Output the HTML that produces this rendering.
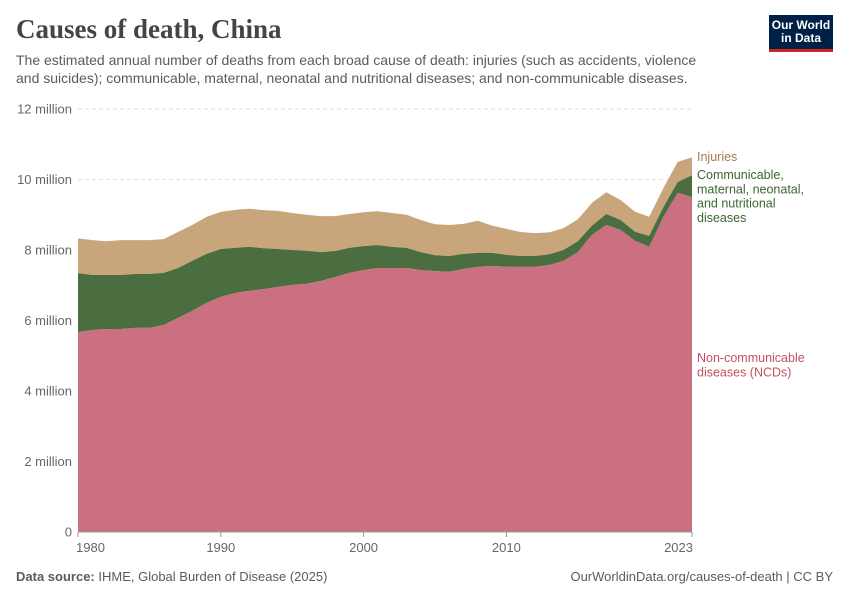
<!DOCTYPE html>
<html><head><meta charset="utf-8">
<style>
body{margin:0;background:#fff;font-family:"Liberation Sans",sans-serif;}
#wrap{position:relative;width:850px;height:600px;overflow:hidden;}
.t{position:absolute;white-space:nowrap;}
</style></head>
<body><div id="wrap">
<div class="t" style="left:16px;top:14px;font-family:'Liberation Serif',serif;font-size:27px;font-weight:bold;color:#444;">Causes of death, China</div>
<div class="t" style="left:16px;top:52px;font-size:14px;line-height:17.5px;color:#5b5b5b;">The estimated annual number of deaths from each broad cause of death: injuries (such as accidents, violence<br>and suicides); communicable, maternal, neonatal and nutritional diseases; and non-communicable diseases.</div>
<div style="position:absolute;left:769px;top:15px;width:64px;height:37px;background:#002147;border-bottom:3px solid #ce261e;box-sizing:border-box;color:#fff;font-size:12px;font-weight:bold;line-height:13px;text-align:center;padding-top:4px;">Our World<br>in Data</div>
<svg id="chart" width="850" height="600" style="position:absolute;left:0;top:0;"></svg>
<div class="t" style="left:16px;top:569px;font-size:13px;color:#5b5b5b;"><b>Data source:</b> IHME, Global Burden of Disease (2025)</div>
<div class="t" style="right:17px;top:569px;font-size:13px;color:#5b5b5b;">OurWorldinData.org/causes-of-death | CC BY</div>
</div>
<script>
const years=[1980,1981,1982,1983,1984,1985,1986,1987,1988,1989,1990,1991,1992,1993,1994,1995,1996,1997,1998,1999,2000,2001,2002,2003,2004,2005,2006,2007,2008,2009,2010,2011,2012,2013,2014,2015,2016,2017,2018,2019,2020,2021,2022,2023];
const ncd=[5.67,5.73,5.76,5.76,5.79,5.79,5.87,6.07,6.27,6.50,6.67,6.78,6.84,6.89,6.95,7.01,7.04,7.12,7.23,7.35,7.43,7.49,7.49,7.49,7.43,7.40,7.38,7.46,7.52,7.55,7.52,7.52,7.52,7.57,7.69,7.94,8.43,8.71,8.57,8.26,8.09,8.94,9.62,9.50];
const communicable=[1.67,1.56,1.53,1.53,1.53,1.53,1.48,1.42,1.42,1.39,1.36,1.28,1.25,1.16,1.08,0.99,0.94,0.82,0.74,0.71,0.68,0.65,0.60,0.57,0.51,0.45,0.45,0.43,0.40,0.37,0.34,0.31,0.31,0.31,0.31,0.31,0.26,0.31,0.28,0.26,0.31,0.28,0.31,0.62];
const injuries=[0.99,0.99,0.96,0.99,0.96,0.96,0.96,1.02,1.02,1.05,1.05,1.08,1.08,1.08,1.08,1.05,1.02,1.02,0.99,0.96,0.96,0.96,0.96,0.94,0.91,0.88,0.88,0.85,0.91,0.77,0.74,0.68,0.65,0.62,0.62,0.62,0.65,0.62,0.57,0.57,0.54,0.54,0.57,0.51];
const yTicks=[0,2,4,6,8,10,12];
const yTickLabels=["0","2 million","4 million","6 million","8 million","10 million","12 million"];
const xTicks=[1980,1990,2000,2010,2023];
const NS="http://www.w3.org/2000/svg";
const svg=document.getElementById('chart');
const X0=78,X1=692,Y0=532,Y1=109;
const xs=y=>X0+(y-1980)/(2023-1980)*(X1-X0);
const ys=v=>Y0-v/12*(Y0-Y1);
function mk(tag,attrs){const e=document.createElementNS(NS,tag);for(const k in attrs)e.setAttribute(k,attrs[k]);svg.appendChild(e);return e;}
yTicks.forEach((v,i)=>{
  if(v>0){const l=mk('line',{x1:X0,x2:X1,y1:ys(v),y2:ys(v),stroke:'#ddd','stroke-dasharray':'4,3'});
  
  }
  const t=mk('text',{x:72,y:ys(v)+4.5,'text-anchor':'end','font-size':'13',fill:'#666','font-family':'Liberation Sans'});
  t.textContent=yTickLabels[i];
  
  
});
const s1=ncd, s2=ncd.map((v,i)=>v+communicable[i]), s3=s2.map((v,i)=>v+injuries[i]);
function area(lo,hi,color,name){
  let d='M'+years.map((y,i)=>xs(y)+','+ys(hi[i])).join('L');
  for(let i=years.length-1;i>=0;i--)d+='L'+xs(years[i])+','+ys(lo?lo[i]:0);
  const p=mk('path',{d:d+'Z',fill:color});
  
  
}
area(s2,s3,'#c8a57a','injuries-area');
area(s1,s2,'#4a6e40','communicable-area');
area(null,s1,'#ca7080','ncd-area');
const ax=mk('line',{x1:X0,x2:X1,y1:Y0,y2:Y0,stroke:'#999'});


xTicks.forEach((y,i)=>{
  mk('line',{x1:xs(y),x2:xs(y),y1:Y0,y2:Y0+5,stroke:'#999'});
  const anchor=i==0?'start':(i==xTicks.length-1?'end':'middle');
  const tx=i==0?xs(y)-2:(i==xTicks.length-1?xs(y)+1:xs(y));
  const t=mk('text',{x:tx,y:552,'text-anchor':anchor,'font-size':'13',fill:'#666','font-family':'Liberation Sans'});
  t.textContent=y;
  
  
});
function lbl(lines,y,color,name){
  const t=mk('text',{x:697,y:y,'font-size':'12.5',fill:color,'font-family':'Liberation Sans'});
  lines.forEach((s,i)=>{const ts=document.createElementNS(NS,'tspan');ts.setAttribute('x',697);ts.setAttribute('dy',i?14.3:0);ts.textContent=s;t.appendChild(ts);});
  
  
}
lbl(['Injuries'],161,'#a57c4f','injuries-label');
lbl(['Communicable,','maternal, neonatal,','and nutritional','diseases'],179,'#3b6632','communicable-label');
lbl(['Non-communicable','diseases (NCDs)'],362,'#c4505f','ncd-label');
</script>
</body></html>
